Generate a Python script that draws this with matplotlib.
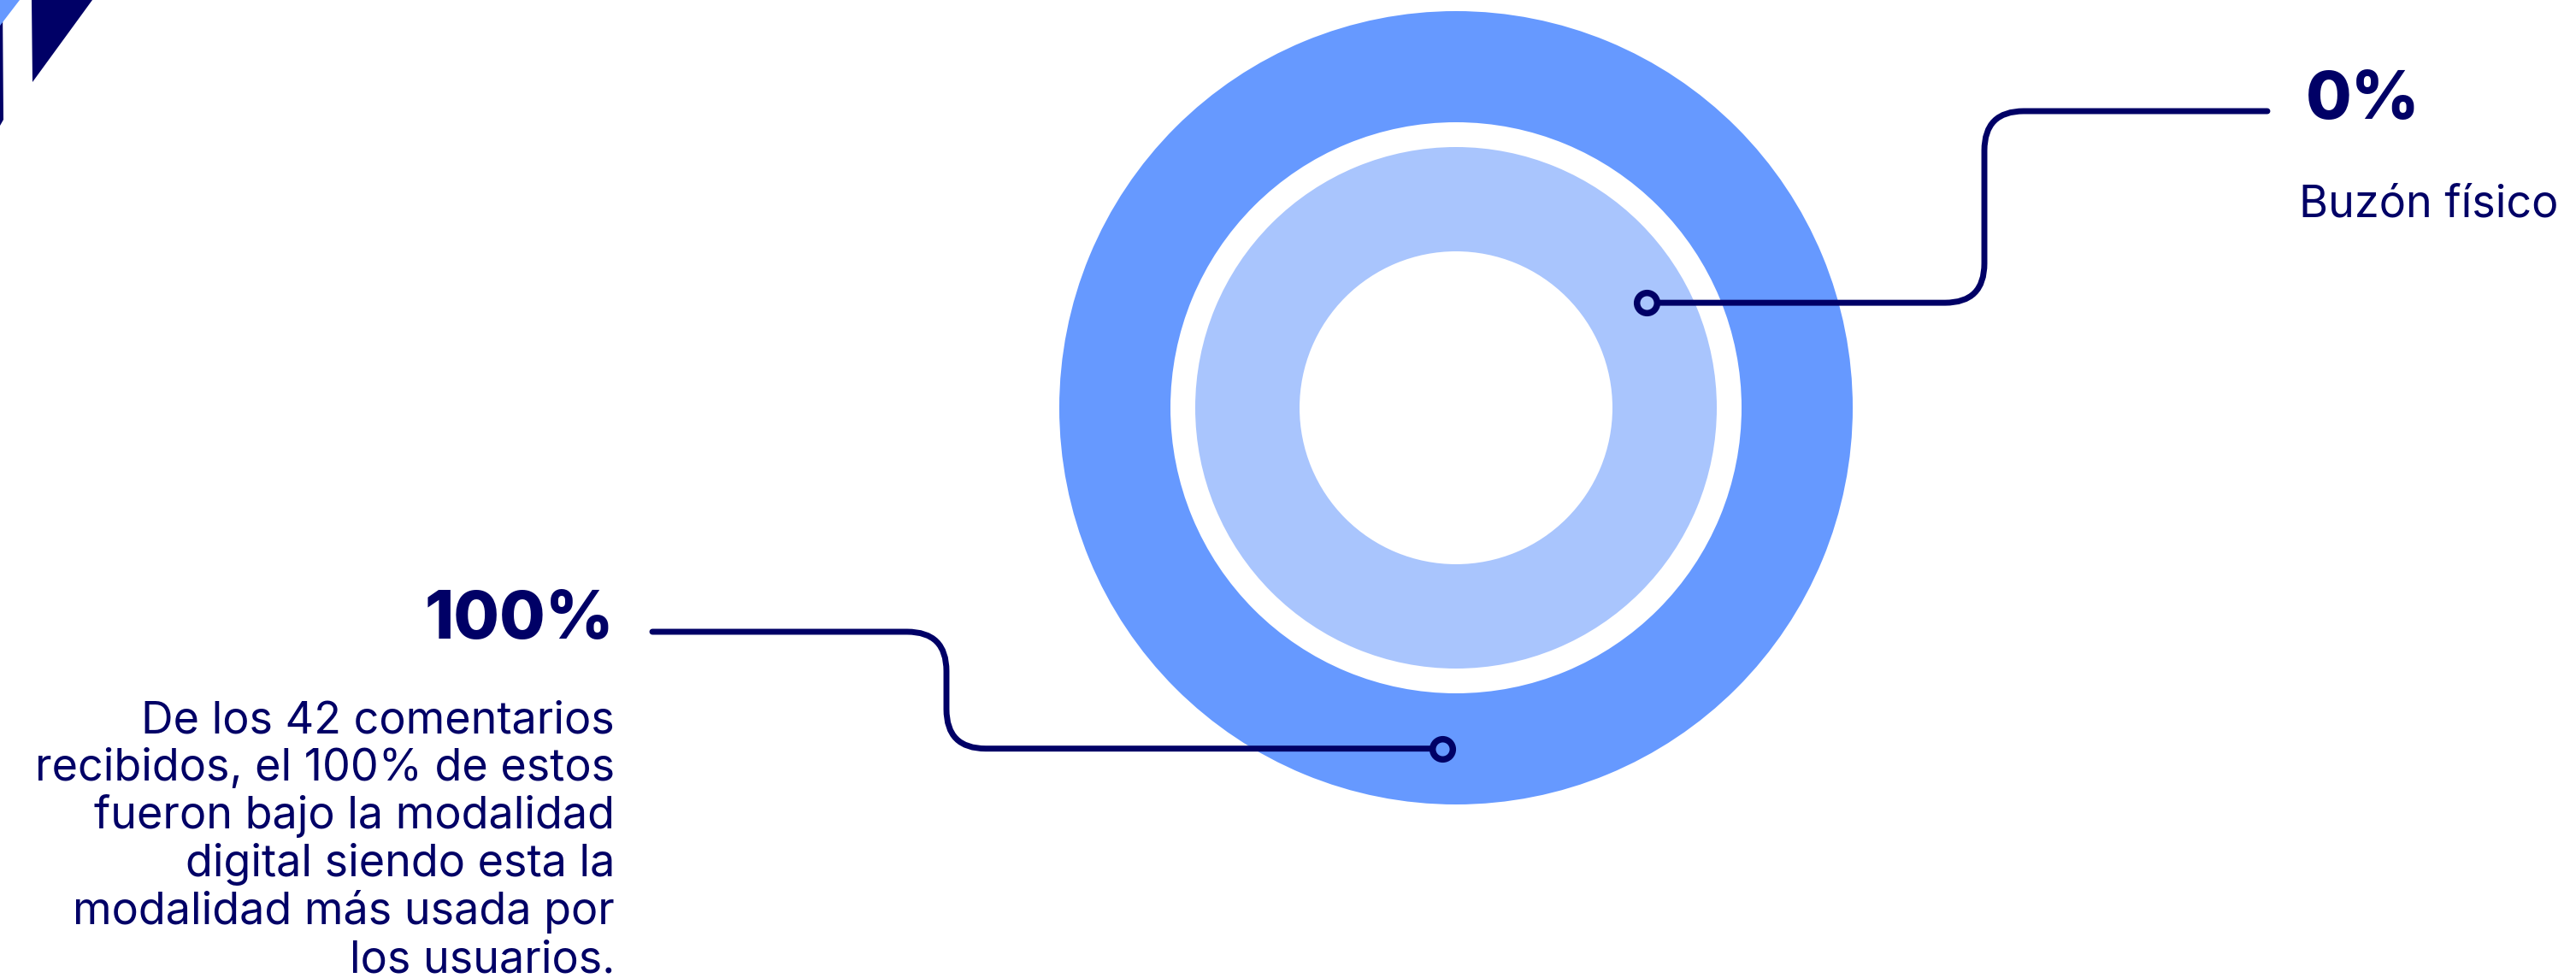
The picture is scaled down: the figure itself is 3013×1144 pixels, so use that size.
import numpy as np
import matplotlib
matplotlib.use("Agg")
import matplotlib.pyplot as plt
from matplotlib.path import Path
from matplotlib.patches import PathPatch, Polygon

# data
modalidades = ["Digital", "Buzón físico"]
porcentajes = [100, 0]
total_comentarios = 42

descripcion = [
    f"De los {total_comentarios} comentarios",
    f"recibidos, el {porcentajes[0]}% de estos",
    "fueron bajo la modalidad",
    "digital siendo esta la",
    "modalidad más usada por",
    "los usuarios.",
]

navy = "#000066"
mid_blue = "#6699FF"
light_blue = "#A9C5FD"

W, H = 3013, 1144
fig = plt.figure(figsize=(W / 100, H / 100), dpi=100)
ax = fig.add_axes([0, 0, 1, 1])

cx, cy = 1703, 477
# rings: (outer radius, width) for each modalidad
rings = [(464, 130), (305, 122)]

for (r, w), pct in zip(rings, porcentajes):
    ax.pie([pct, 100 - pct], radius=r, center=(cx, cy),
           colors=[mid_blue, light_blue], startangle=90, counterclock=False,
           wedgeprops=dict(width=w, linewidth=0))


def rounded(points, rad):
    verts = [points[0]]
    codes = [Path.MOVETO]
    for i in range(1, len(points) - 1):
        p0, p1, p2 = map(np.array, points[i - 1:i + 2])
        d1 = (p1 - p0) / np.linalg.norm(p1 - p0)
        d2 = (p2 - p1) / np.linalg.norm(p2 - p1)
        verts += [tuple(p1 - d1 * rad), tuple(p1), tuple(p1 + d2 * rad)]
        codes += [Path.LINETO, Path.CURVE3, Path.CURVE3]
    verts.append(points[-1])
    codes.append(Path.LINETO)
    return Path(verts, codes)


# anchor dots on each ring (radius, angle in degrees)
anchor_pos = [(399, -92.3), (255, 28.8)]
anchors = [(cx + rr * np.cos(np.radians(a)), cy - rr * np.sin(np.radians(a)))
           for rr, a in anchor_pos]

(bx, by), (tx, ty) = anchors
leaders = [
    [(bx, by), (1107, by), (1107, 739), (763, 739)],
    [(tx, ty), (2321, ty), (2321, 130), (2652, 130)],
]
for pts in leaders:
    ax.add_patch(PathPatch(rounded(pts, 46), fill=False, edgecolor=navy,
                           lw=5, capstyle="round", joinstyle="round", zorder=3))

for (x, y), col in zip(anchors, [mid_blue, light_blue]):
    ax.plot(x, y, "o", ms=17, mew=5.4, mec=navy, mfc=col, zorder=4)

# labels
ax.text(718, 747, f"{porcentajes[0]}%", ha="right", va="baseline",
        fontsize=56, fontweight=800, color=navy, family="Inter")
for i, line in enumerate(descripcion):
    ax.text(719, 857 + 56 * i, line, ha="right", va="baseline",
            fontsize=37.5, color=navy, family="Inter")

ax.text(2697, 139, f"{porcentajes[1]}%", ha="left", va="baseline",
        fontsize=56, fontweight=800, color=navy, family="Inter")
ax.text(2689, 253, modalidades[1], ha="left", va="baseline",
        fontsize=37.5, color=navy, family="Inter")

# corner decoration
ax.add_patch(Polygon([(0, 0), (3, 0), (4, 140), (0, 147)], color=navy, lw=0))
ax.add_patch(Polygon([(0, 0), (23, 0), (0, 30)], color=mid_blue, lw=0))
ax.add_patch(Polygon([(37, 0), (108, 0), (38, 96)], color=navy, lw=0))

ax.set_xlim(0, W)
ax.set_ylim(H, 0)
ax.set_aspect("equal")
ax.axis("off")

fig.savefig("out.png", dpi=100)
